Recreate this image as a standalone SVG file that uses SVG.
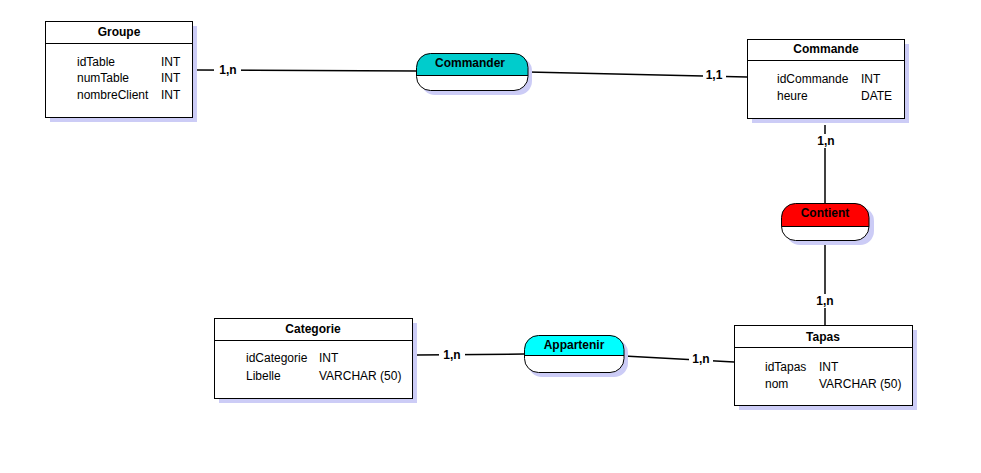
<svg xmlns="http://www.w3.org/2000/svg" width="981" height="473" viewBox="0 0 981 473">
<style>
.shadow{fill:#ccccf6;stroke:none}
.box{fill:#fff;stroke:#000;stroke-width:1}
.sep{stroke:#000;stroke-width:1}
.title{font-family:"Liberation Sans",Arial,sans-serif;font-size:12px;font-weight:bold;text-anchor:middle;fill:#000}
.attr{font-family:"Liberation Sans",Arial,sans-serif;font-size:12px;fill:#000}
.conn{stroke:#000;stroke-width:1.5;fill:none}
.card{font-family:"Liberation Sans",Arial,sans-serif;font-size:12px;font-weight:bold;text-anchor:middle;fill:#000}
.lblbg{fill:#fff}
</style>
<rect width="981" height="473" fill="#fff"/>
<g id="connectors">
<line class="conn" x1="197" y1="70" x2="417" y2="71"/>
<line class="conn" x1="528" y1="72" x2="747" y2="77"/>
<line class="conn" x1="825" y1="125" x2="825" y2="203"/>
<line class="conn" x1="825" y1="241" x2="825" y2="325"/>
<line class="conn" x1="417" y1="355" x2="524" y2="354"/>
<line class="conn" x1="624" y1="356" x2="734" y2="362"/>
<rect class="lblbg" x="214" y="62" width="27" height="16"/>
<text class="card" x="228" y="74">1,n</text>
<rect class="lblbg" x="703" y="67" width="23" height="16"/>
<text class="card" x="714" y="79">1,1</text>
<rect class="lblbg" x="814" y="134" width="24" height="14"/>
<text class="card" x="826" y="145">1,n</text>
<rect class="lblbg" x="814" y="294" width="24" height="14"/>
<text class="card" x="825" y="305">1,n</text>
<rect class="lblbg" x="439" y="347" width="26" height="16"/>
<text class="card" x="452" y="359">1,n</text>
<rect class="lblbg" x="689" y="351" width="24" height="16"/>
<text class="card" x="701" y="363">1,n</text>
</g>
<g id="Groupe">
<rect class="shadow" x="50" y="26" width="147" height="96"/>
<rect class="box" x="45.5" y="21.5" width="147" height="96"/>
<line class="sep" x1="45.5" y1="43.5" x2="192.5" y2="43.5"/>
<text class="title" x="119" y="36">Groupe</text>
<text class="attr" x="77" y="66">idTable</text><text class="attr" x="161" y="66">INT</text>
<text class="attr" x="77" y="82">numTable</text><text class="attr" x="161" y="82">INT</text>
<text class="attr" x="77" y="99">nombreClient</text><text class="attr" x="161" y="99">INT</text>
</g>
<g id="Commander">
<rect class="shadow" x="421" y="57" width="111" height="38" rx="14"/>
<rect x="416.5" y="53.5" width="111.5" height="37" rx="14" fill="#fff"/>
<path d="M431,53.5 H514 A14,14 0 0 1 528,67.5 V75.5 H416.5 V67.5 A14,14 0 0 1 431,53.5 Z" fill="#00cccc"/>
<rect x="416.5" y="53.5" width="111.5" height="37" rx="14" fill="none" stroke="#000"/>
<line class="sep" x1="416.5" y1="75.5" x2="528" y2="75.5"/>
<text class="title" x="470" y="67">Commander</text>
</g>
<g id="Commande">
<rect class="shadow" x="752" y="44" width="157" height="79"/>
<rect class="box" x="747.5" y="39.5" width="157" height="79"/>
<line class="sep" x1="747.5" y1="60.5" x2="904.5" y2="60.5"/>
<text class="title" x="826" y="53">Commande</text>
<text class="attr" x="777" y="83">idCommande</text><text class="attr" x="861" y="83">INT</text>
<text class="attr" x="777" y="100">heure</text><text class="attr" x="861" y="100">DATE</text>
</g>
<g id="Contient">
<rect class="shadow" x="786" y="207" width="88" height="38" rx="14"/>
<rect x="781.5" y="203.5" width="87.5" height="37" rx="14" fill="#fff"/>
<path d="M796,203.5 H855 A14,14 0 0 1 869,217.5 V226.5 H781.5 V217.5 A14,14 0 0 1 796,203.5 Z" fill="#ff0000"/>
<rect x="781.5" y="203.5" width="87.5" height="37" rx="14" fill="none" stroke="#000"/>
<line class="sep" x1="781.5" y1="226.5" x2="869" y2="226.5"/>
<text class="title" x="825" y="217">Contient</text>
</g>
<g id="Categorie">
<rect class="shadow" x="219" y="323" width="198" height="80"/>
<rect class="box" x="214.5" y="318.5" width="198" height="80"/>
<line class="sep" x1="214.5" y1="340.5" x2="412.5" y2="340.5"/>
<text class="title" x="313" y="333">Categorie</text>
<text class="attr" x="246" y="362">idCategorie</text><text class="attr" x="319" y="362">INT</text>
<text class="attr" x="246" y="380">Libelle</text><text class="attr" x="319" y="380">VARCHAR (50)</text>
</g>
<g id="Appartenir">
<rect class="shadow" x="528" y="339" width="100" height="38" rx="14"/>
<rect x="524.5" y="335.5" width="99.5" height="37" rx="14" fill="#fff"/>
<path d="M538,335.5 H610 A14,14 0 0 1 624,349.5 V355.5 H524.5 V349.5 A14,14 0 0 1 538,335.5 Z" fill="#00ffff"/>
<rect x="524.5" y="335.5" width="99.5" height="37" rx="14" fill="none" stroke="#000"/>
<line class="sep" x1="524.5" y1="355.5" x2="624" y2="355.5"/>
<text class="title" x="574" y="349">Appartenir</text>
</g>
<g id="Tapas">
<rect class="shadow" x="739" y="330" width="178" height="80"/>
<rect class="box" x="734.5" y="325.5" width="178" height="80"/>
<line class="sep" x1="734.5" y1="347.5" x2="912.5" y2="347.5"/>
<text class="title" x="823" y="341">Tapas</text>
<text class="attr" x="765" y="371">idTapas</text><text class="attr" x="819" y="371">INT</text>
<text class="attr" x="765" y="388">nom</text><text class="attr" x="819" y="388">VARCHAR (50)</text>
</g>
</svg>
